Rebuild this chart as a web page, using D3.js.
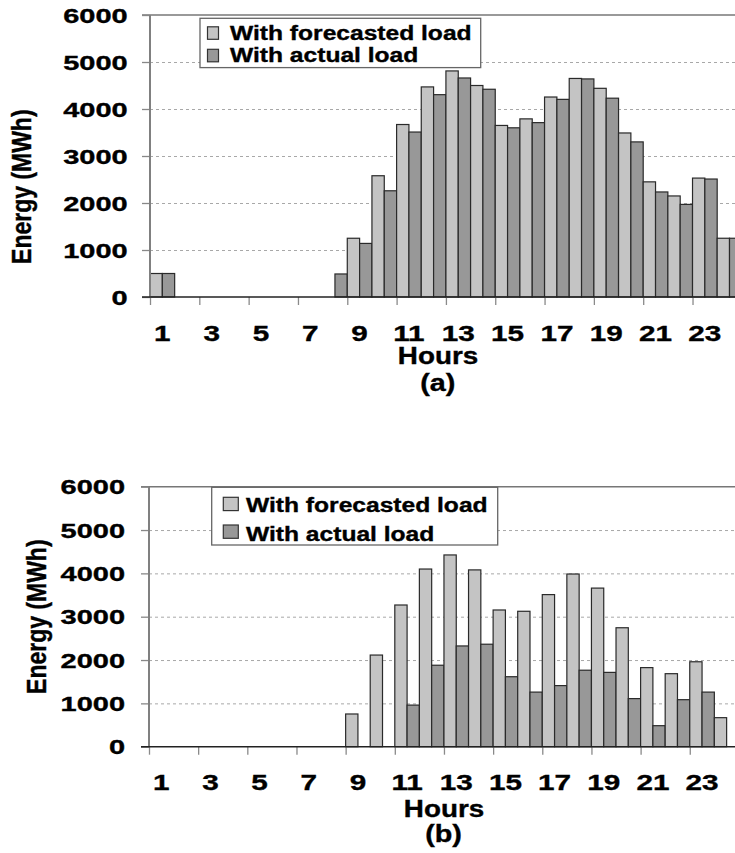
<!DOCTYPE html>
<html><head><meta charset="utf-8">
<script src="https://cdn.jsdelivr.net/npm/d3@7/dist/d3.min.js"></script>
<style>
body{margin:0;background:#fff}
svg{display:block}
text{font-family:"Liberation Sans",Arial,Helvetica,sans-serif;font-weight:bold;fill:#000;stroke:#000;stroke-width:0.35px}
</style>
</head><body>
<svg id="c" width="735" height="853"></svg>
<script>
// ---------------- DATA ----------------
const hours = [1,2,3,4,5,6,7,8,9,10,11,12,13,14,15,16,17,18,19,20,21,22,23,24];
const seriesNames = ["With forecasted load","With actual load"];
const yTickValues = [0,1000,2000,3000,4000,5000,6000];
const xTickLabels = [1,3,5,7,9,11,13,15,17,19,21,23];
const yTitle = "Energy (MWh)";
const xTitle = "Hours";

// Panel (a)
const forecastA = [500,0,0,0,0,0,0,0,1250,2580,3670,4470,4810,4500,3650,3790,4255,4650,4440,3490,2450,2150,2530,1250];
const actualA   = [500,0,0,0,0,0,0,490,1140,2260,3510,4305,4660,4420,3600,3710,4205,4640,4230,3300,2235,1970,2510,1250];
// Panel (b)
const forecastB = [0,0,0,0,0,0,0,0,755,2115,3270,4100,4425,4080,3155,3125,3510,3985,3660,2745,1825,1685,1960,670];
const actualB   = [0,0,0,0,0,0,0,0,0,0,960,1880,2325,2365,1615,1260,1410,1765,1715,1110,485,1085,1260,0];

// ---------------- DRAW ----------------
const svg = d3.select("#c");
const W = 735;
const colors = ["#c4c4c4","#989898"];

function panel(cfg){
  const g = svg.append("g");
  const xEnd = cfg.x0 + 24*cfg.hourW;
  const xBand = d3.scaleBand().domain(hours).range([cfg.x0, xEnd]).padding(0);
  const xSub = d3.scaleBand().domain(seriesNames).range([0, xBand.bandwidth()]).padding(0);
  const xLin = d3.scaleLinear().domain([0,24]).range([cfg.x0, xEnd]);
  const y = d3.scaleLinear().domain([0,6000]).range([cfg.yZero, cfg.yTop]);

  // gridlines
  const grid = g.append("g").attr("transform",`translate(${cfg.x0},0)`)
    .call(d3.axisLeft(y).tickValues(yTickValues.filter(v=>v>0 && v<6000)).tickSize(-(W-cfg.x0)).tickFormat(""));
  grid.select(".domain").remove();
  grid.selectAll("line").attr("stroke","#a8a8a8").attr("stroke-width",1).attr("stroke-dasharray","3,3");

  // top border
  g.append("line").attr("x1",cfg.x0-8).attr("x2",W).attr("y1",y(6000)).attr("y2",y(6000))
    .attr("stroke","#777").attr("stroke-width",1.6);

  // bars
  const data = [];
  hours.forEach((h,i)=>{
    data.push({h, s:seriesNames[0], v:cfg.f[i], c:colors[0]});
    data.push({h, s:seriesNames[1], v:cfg.a[i], c:colors[1]});
  });
  g.append("g").selectAll("rect").data(data.filter(d=>d.v>0)).join("rect")
    .attr("x",d=>xBand(d.h)+xSub(d.s))
    .attr("width",xSub.bandwidth())
    .attr("y",d=>y(d.v))
    .attr("height",d=>y(0)-y(d.v))
    .attr("fill",d=>d.c)
    .attr("stroke","#2a2a2a").attr("stroke-width",1.2);

  // y axis ticks + labels
  const ya = g.append("g").attr("transform",`translate(${cfg.x0},0)`)
    .call(d3.axisLeft(y).tickValues(yTickValues).tickSize(8).tickFormat(d3.format("d")));
  ya.select(".domain").remove();
  ya.selectAll("line").attr("stroke","#888").attr("stroke-width",1.3);
  ya.selectAll("text").attr("x",null).attr("dy","0.36em")
    .attr("text-anchor","end").style("font-size","20px")
    .attr("transform",`translate(${-cfg.yLabelOff},0) scale(1.45,1)`);

  // left axis line
  g.append("line").attr("x1",cfg.x0).attr("x2",cfg.x0).attr("y1",y(6000)).attr("y2",y(0))
    .attr("stroke","#808080").attr("stroke-width",2);

  // x axis tick marks at hour boundaries
  const xt = g.append("g").attr("transform",`translate(0,${cfg.yZero})`)
    .call(d3.axisBottom(xLin).tickValues(xTickLabels.map(h=>h-1)).tickSize(8).tickFormat(""));
  xt.select(".domain").remove();
  xt.selectAll("line").attr("stroke","#8a8a8a").attr("stroke-width",1.3);

  // baseline
  g.append("line").attr("x1",cfg.x0-8).attr("x2",W).attr("y1",y(0)).attr("y2",y(0))
    .attr("stroke","#222").attr("stroke-width",1.6);

  // x labels
  const xl = g.append("g").attr("transform",`translate(0,${cfg.yZero})`)
    .call(d3.axisBottom(xBand).tickValues(xTickLabels).tickSize(0));
  xl.select(".domain").remove();
  xl.selectAll("text").attr("y",null).attr("dy",null).style("font-size","22px")
    .attr("transform",`translate(0,${cfg.xLabelBase-cfg.yZero}) scale(1.35,1)`);

  // titles
  g.append("text").attr("text-anchor","middle").style("font-size","23px")
    .attr("transform",`translate(${cfg.hoursX},${cfg.hoursBase}) scale(1.21,1)`).text(xTitle);
  g.append("text").attr("text-anchor","middle").style("font-size","23px")
    .attr("transform",`translate(${cfg.subX},${cfg.subBase}) scale(1.25,1)`).text(cfg.tag);
  g.append("text").attr("text-anchor","middle").attr("dy","0.35em").style("font-size","23px")
    .attr("transform",`translate(${cfg.eX},${cfg.eY}) rotate(-90) scale(1,1.2)`).text(yTitle);

  // legend
  const L = cfg.leg;
  const lg = g.append("g");
  lg.append("rect").attr("x",L.x).attr("y",L.y).attr("width",L.w).attr("height",L.h)
    .attr("fill","#fff").attr("stroke","#666").attr("stroke-width",1.3);
  seriesNames.forEach((s,i)=>{
    lg.append("rect").attr("x",L.px).attr("y",L.py[i]).attr("width",L.pw).attr("height",L.ph)
      .attr("fill",colors[i]).attr("stroke","#333").attr("stroke-width",1.2);
    lg.append("text").style("font-size","20px")
      .attr("transform",`translate(${L.tx},${L.base[i]}) scale(1.23,1)`).text(s);
  });
}

panel({f:forecastA, a:actualA, x0:150, hourW:24.66, yTop:15, yZero:297, yLabelOff:22.3,
  xLabelBase:340.7, hoursX:438, hoursBase:364, subX:437.7, subBase:391, tag:"(a)", eX:21, eY:186.7,
  leg:{x:200,y:18.3,w:280.7,h:49.3,px:207.5,pw:11,ph:12.5,py:[26.8,49.3],tx:230,base:[39.5,61.7]}});

panel({f:forecastB, a:actualB, x0:149, hourW:24.58, yTop:486.7, yZero:746.7, yLabelOff:24,
  xLabelBase:790, hoursX:444, hoursBase:816.7, subX:443.5, subBase:842, tag:"(b)", eX:36, eY:616.7,
  leg:{x:211.7,y:487.3,w:286,h:57.7,px:223.3,pw:15,ph:13.3,py:[497.3,525],tx:246,base:[511.7,540.7]}});
</script>
</body></html>
